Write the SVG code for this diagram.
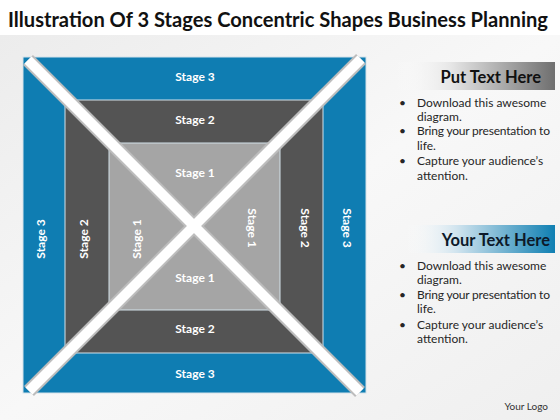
<svg xmlns="http://www.w3.org/2000/svg" width="560" height="420" viewBox="0 0 560 420">
<defs>
<linearGradient id="bg" x1="0" y1="0" x2="1" y2="1">
<stop offset="0" stop-color="#ececec"/>
<stop offset="0.5" stop-color="#f8f8f8"/>
<stop offset="1" stop-color="#efefef"/>
</linearGradient>
<linearGradient id="gGray" x1="0" y1="0" x2="1" y2="0">
<stop offset="0" stop-color="#ffffff" stop-opacity="0"/>
<stop offset="0.35" stop-color="#e6e6e6"/>
<stop offset="1" stop-color="#6f6f6f"/>
</linearGradient>
<linearGradient id="gBlue" x1="0" y1="0" x2="1" y2="0">
<stop offset="0" stop-color="#ffffff" stop-opacity="0"/>
<stop offset="0.35" stop-color="#cfe3ee"/>
<stop offset="1" stop-color="#0f7fb2"/>
</linearGradient>
<style>
.lbl{font-family:Lato,"Liberation Sans",sans-serif;font-weight:bold;font-size:12px;fill:#ffffff;text-anchor:middle;dominant-baseline:central}
.txt{font-family:Lato,"Liberation Sans",sans-serif;font-size:12px;fill:#262626}
.hdr{font-family:Lato,"Liberation Sans",sans-serif;font-weight:bold;font-size:16.5px;text-anchor:end}
.band1{stroke:#bdbdbd;stroke-width:14;fill:none}
.band2{stroke:#ffffff;stroke-width:10;fill:none}
.sq{stroke:#d3e2ea;stroke-width:1}
</style>
</defs>
<rect x="0" y="0" width="560" height="420" fill="#ffffff"/>
<rect x="0" y="35" width="560" height="385" fill="url(#bg)"/>
<text x="8" y="27" font-family="Lato,'Liberation Sans',sans-serif" font-weight="bold" font-size="20" fill="#111111" textLength="540" lengthAdjust="spacingAndGlyphs">Illustration Of 3 Stages Concentric Shapes Business Planning</text>

<g id="stage3">
<rect class="sq" x="23" y="57" width="343" height="336" fill="#0f7db2"/>
</g>
<g id="stage2">
<rect class="sq" x="65" y="100" width="258" height="253" fill="#545454"/>
</g>
<g id="stage1">
<rect class="sq" x="109" y="143" width="171" height="167" fill="#a5a5a5"/>
</g>

<g id="connectors">
<line class="band1" x1="28" y1="60" x2="360" y2="392"/>
<line class="band1" x1="361" y1="59" x2="29" y2="391"/>
<line class="band2" x1="28" y1="60" x2="360" y2="392"/>
<line class="band2" x1="361" y1="59" x2="29" y2="391"/>
</g>

<g id="labels">
<text class="lbl" x="195" y="76">Stage 3</text>
<text class="lbl" x="195" y="119">Stage 2</text>
<text class="lbl" x="195" y="172">Stage 1</text>
<text class="lbl" x="195" y="277">Stage 1</text>
<text class="lbl" x="195" y="328">Stage 2</text>
<text class="lbl" x="195" y="373">Stage 3</text>
<text class="lbl" transform="translate(40,239) rotate(-90)">Stage 3</text>
<text class="lbl" transform="translate(83,239) rotate(-90)">Stage 2</text>
<text class="lbl" transform="translate(136,239) rotate(-90)">Stage 1</text>
<text class="lbl" transform="translate(252,228) rotate(90)">Stage 1</text>
<text class="lbl" transform="translate(305,228) rotate(90)">Stage 2</text>
<text class="lbl" transform="translate(347,228) rotate(90)">Stage 3</text>
</g>

<g id="panel1">
<rect x="395" y="62" width="160" height="28" fill="url(#gGray)"/>
<text class="hdr" x="541" y="83" fill="#111111">Put Text Here</text>
<g class="txt">
<text x="399" y="107">•</text><text x="417" y="107">Download this awesome</text>
<text x="417" y="121">diagram.</text>
<text x="399" y="135">•</text><text x="417" y="135" textLength="133">Bring your presentation  to</text>
<text x="417" y="150">life.</text>
<text x="399" y="165">•</text><text x="417" y="165">Capture your audience’s</text>
<text x="417" y="180">attention.</text>
</g>
</g>

<g id="panel2">
<rect x="405" y="225" width="150" height="28" fill="url(#gBlue)"/>
<text class="hdr" x="550" y="246" fill="#0d1a2a">Your Text Here</text>
<g class="txt">
<text x="399" y="270">•</text><text x="417" y="270">Download this awesome</text>
<text x="417" y="284">diagram.</text>
<text x="399" y="299">•</text><text x="417" y="299" textLength="133">Bring your presentation  to</text>
<text x="417" y="313">life.</text>
<text x="399" y="329">•</text><text x="417" y="329">Capture your audience’s</text>
<text x="417" y="343">attention.</text>
</g>
</g>

<text x="548" y="410" text-anchor="end" font-family="Lato,'Liberation Sans',sans-serif" font-size="10" fill="#333333">Your Logo</text>
</svg>
